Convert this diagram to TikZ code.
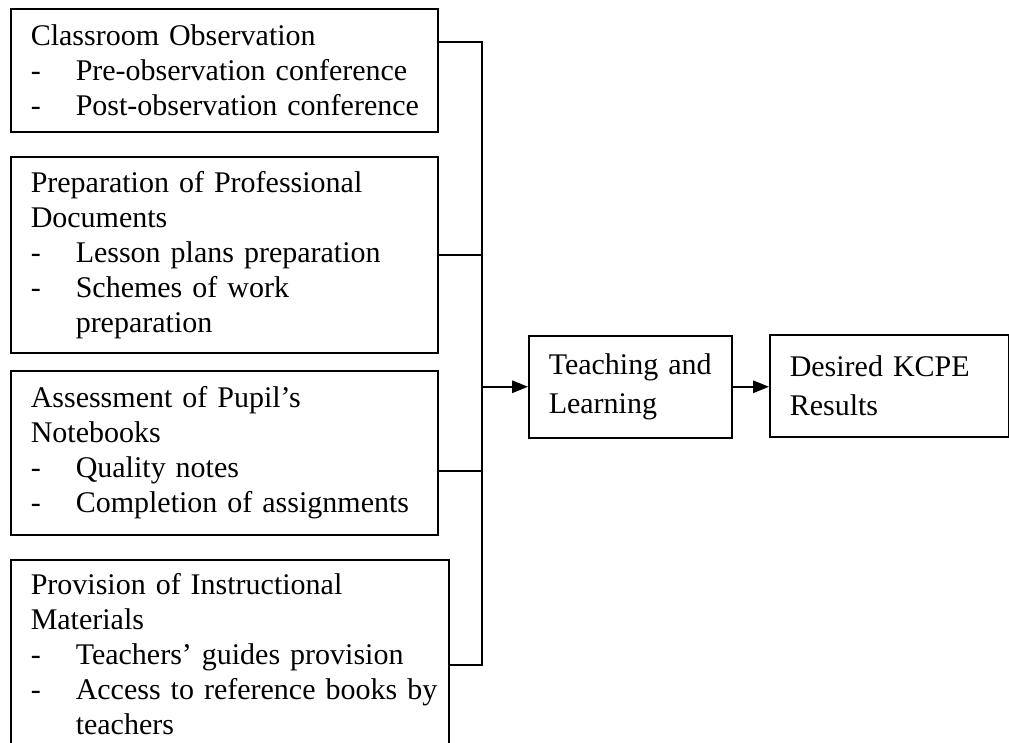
\documentclass[tikz,border=0pt]{standalone}
\usepackage{fontspec}
\setmainfont{Liberation Serif}[WordSpace={1,0,0}]
\usetikzlibrary{arrows.meta}

\newcommand{\itemdash}{\makebox[18pt][l]{-}}
\newcommand{\itemgap}{\hspace*{18pt}}

\begin{document}
\begin{tikzpicture}[
  x=0.4pt,
  y=-0.4pt,
  factorbox/.style={
    draw=black,
    line width=0.6pt,
    anchor=north west,
    inner xsep=0pt,
    inner ysep=0pt,
    align=left,
    font=\fontsize{12}{14}\selectfont,
    execute at begin node={\leftskip=8pt\relax}
  },
  flowbox/.style={
    factorbox,
    font=\fontsize{12}{15.5}\selectfont
  },
  link/.style={
    draw=black,
    line width=0.6pt
  },
  flow/.style={
    link,
    -{Triangle[length=6.4pt,width=5pt]}
  }
]

  % page frame
  \clip (0,0) rectangle (1009,742);

  % factor boxes
  \node[factorbox,text width=170.8pt,minimum height=49.2pt]
    (observe) at (10,8)
    {Classroom Observation\\
     \itemdash Pre-observation conference\\
     \itemdash Post-observation conference};

  \node[factorbox,text width=170.8pt,minimum height=78.4pt]
    (documents) at (10,156)
    {Preparation of Professional\\
     Documents\\
     \itemdash Lesson plans preparation\\
     \itemdash Schemes of work\\
     \itemgap preparation};

  \node[factorbox,text width=170.8pt,minimum height=65.6pt]
    (notebooks) at (10,370)
    {Assessment of Pupil’s\\
     Notebooks\\
     \itemdash Quality notes\\
     \itemdash Completion of assignments};

  \node[factorbox,text width=175.2pt,minimum height=75.6pt]
    (materials) at (10,559)
    {Provision of Instructional\\
     Materials\\
     \itemdash Teachers’ guides provision\\
     \itemdash Access to reference books by\\
     \itemgap teachers};

  % process and outcome
  \node[flowbox,text width=81.2pt,minimum height=40.8pt]
    (teaching) at (528,335)
    {Teaching and\\Learning};

  \node[flowbox,text width=95.6pt,minimum height=40.8pt]
    (results) at (769,334)
    {Desired KCPE\\Results};

  % joining points
  \coordinate (bus) at (482,0);
  \coordinate (observe out) at ([yshift=-13.6pt]observe.north east);
  \coordinate (notebooks out) at ([yshift=-40.4pt]notebooks.north east);
  \coordinate (materials out) at ([yshift=-42.4pt]materials.north east);

  % collecting line
  \draw[link]
    (observe out) -- (observe out -| bus)
    -- (materials out -| bus) -- (materials out);

  \draw[link]
    (documents.east) -- (documents.east -| bus);

  \draw[link]
    (notebooks out) -- (notebooks out -| bus);

  % arrows
  \draw[flow]
    (teaching.west -| bus) -- (teaching.west);

  \draw[flow]
    (teaching.east) -- (teaching.east -| results.west);

\end{tikzpicture}
\end{document}
